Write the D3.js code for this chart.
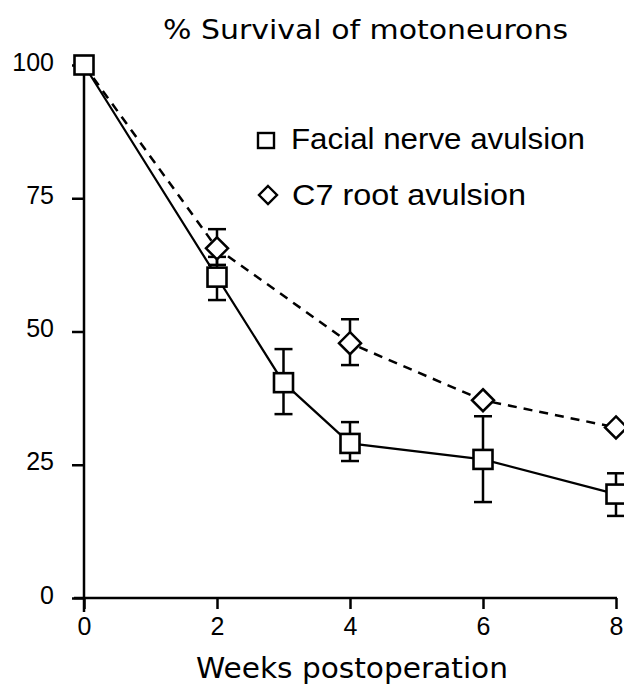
<!DOCTYPE html>
<html lang="en">
<head>
<meta charset="UTF-8">
<title>% Survival of motoneurons</title>
<script src="https://d3js.org/d3.v7.min.js"></script>
<style>
  body { margin: 0; background: #fff; }
  text { fill: #000; }
</style>
</head>
<body>
<div id="chart"></div>
<script>
// data
var weeks = [0, 2, 3, 4, 6, 8];
var facial = [100, 60.2, 40.4, 29, 26, 19.5];
var facialHi = [100, 64, 46.7, 33, 34.1, 23.4];
var facialLo = [100, 55.9, 34.5, 25.7, 18, 15.4];

var c7Weeks = [0, 2, 4, 6, 8];
var c7 = [100, 65.6, 47.8, 37.1, 32];
var c7Hi = [100, 69.2, 52.3, 37.1, 32];
var c7Lo = [100, 62.5, 43.7, 37.1, 32];

var xTicks = [0, 2, 4, 6, 8];
var yTicks = [0, 25, 50, 75, 100];

var W = 624, H = 698;
var svg = d3.select("#chart").append("svg")
  .attr("width", W).attr("height", H);

var x = d3.scaleLinear().domain([0, 8]).range([84, 616]);
var y = d3.scaleLinear().domain([0, 100]).range([598, 65]);

// axes
var xAxis = svg.append("g")
  .attr("transform", "translate(0," + y(0) + ")")
  .call(d3.axisBottom(x).tickValues(xTicks).tickSize(11).tickPadding(3).tickFormat(d3.format("d")));
var yAxis = svg.append("g")
  .attr("transform", "translate(" + x(0) + ",0)")
  .call(d3.axisLeft(y).tickValues(yTicks).tickSize(12).tickPadding(6).tickFormat(d3.format("d")));

[xAxis, yAxis].forEach(function (g) {
  g.select(".domain").remove();
  g.selectAll(".tick line").attr("stroke", "#000").attr("stroke-width", 2.5);
  g.selectAll(".tick text")
    .style("font-family", "'Liberation Sans', Arial, sans-serif")
    .style("font-size", "25px").attr("fill", "#000");
});
xAxis.selectAll(".tick text").attr("dy", "0.9em");
yAxis.selectAll(".tick text").attr("dx", "-12px").attr("dy", "0.2em");

// axis lines (y axis runs a little below the x axis)
svg.append("line").attr("x1", x(0)).attr("x2", x(0)).attr("y1", y(100)).attr("y2", y(0) + 14)
  .attr("stroke", "#000").attr("stroke-width", 2.5);
svg.append("line").attr("x1", x(0) - 10).attr("x2", x(8) + 1).attr("y1", y(0)).attr("y2", y(0))
  .attr("stroke", "#000").attr("stroke-width", 2.5);

var lineGen = d3.line().x(function (d) { return x(d[0]); }).y(function (d) { return y(d[1]); });

// C7 root avulsion: dashed line
var c7Pts = c7Weeks.map(function (w, i) { return [w, c7[i]]; });
svg.append("path").datum(c7Pts)
  .attr("d", lineGen).attr("fill", "none").attr("stroke", "#000")
  .attr("stroke-width", 2.5).attr("stroke-dasharray", "9,7");

// Facial nerve: solid line
var fPts = weeks.map(function (w, i) { return [w, facial[i]]; });
svg.append("path").datum(fPts)
  .attr("d", lineGen).attr("fill", "none").attr("stroke", "#000").attr("stroke-width", 2.2);

// error bars
function errBars(ws, lo, hi) {
  var g = svg.append("g").attr("stroke", "#000").attr("stroke-width", 2.5);
  ws.forEach(function (w, i) {
    if (hi[i] - lo[i] < 1) return;
    var cx = x(w);
    g.append("line").attr("x1", cx).attr("x2", cx).attr("y1", y(hi[i])).attr("y2", y(lo[i]));
    g.append("line").attr("x1", cx - 9).attr("x2", cx + 9).attr("y1", y(hi[i])).attr("y2", y(hi[i]));
    g.append("line").attr("x1", cx - 9).attr("x2", cx + 9).attr("y1", y(lo[i])).attr("y2", y(lo[i]));
  });
}
errBars(c7Weeks, c7Lo, c7Hi);
errBars(weeks, facialLo, facialHi);

// markers
var sq = 19, dm = 11;
function diamond(cx, cy, r) {
  return "M" + cx + "," + (cy - r) + "L" + (cx + r) + "," + cy + "L" + cx + "," + (cy + r) + "L" + (cx - r) + "," + cy + "Z";
}
svg.append("g").selectAll("path").data(c7Pts.slice(1)).join("path")
  .attr("d", function (d) { return diamond(x(d[0]), y(d[1]), dm); })
  .attr("fill", "#fff").attr("stroke", "#000").attr("stroke-width", 2.5);
svg.append("g").selectAll("rect").data(fPts).join("rect")
  .attr("x", function (d) { return x(d[0]) - sq / 2; })
  .attr("y", function (d) { return y(d[1]) - sq / 2; })
  .attr("width", sq).attr("height", sq)
  .attr("fill", "#fff").attr("stroke", "#000").attr("stroke-width", 2.6);

// legend
var legendFont = "'Liberation Sans', Arial, sans-serif";
svg.append("rect").attr("x", 258).attr("y", 133).attr("width", 16).attr("height", 15)
  .attr("fill", "#fff").attr("stroke", "#000").attr("stroke-width", 2.4);
svg.append("text").attr("x", 291).attr("y", 149)
  .attr("textLength", 294).attr("lengthAdjust", "spacingAndGlyphs")
  .style("font-family", legendFont).style("font-size", "29px").text("Facial nerve avulsion");
svg.append("path").attr("d", diamond(268, 195, 9))
  .attr("fill", "#fff").attr("stroke", "#000").attr("stroke-width", 2.4);
svg.append("text").attr("x", 292).attr("y", 205)
  .attr("textLength", 234).attr("lengthAdjust", "spacingAndGlyphs")
  .style("font-family", legendFont).style("font-size", "29px").text("C7 root avulsion");

// title and axis label
svg.append("text").attr("x", 163).attr("y", 39)
  .attr("textLength", 405).attr("lengthAdjust", "spacingAndGlyphs")
  .style("font-family", "'DejaVu Sans', sans-serif").style("font-size", "26px")
  .text("% Survival of motoneurons");
svg.append("text").attr("x", 196).attr("y", 678)
  .attr("textLength", 312).attr("lengthAdjust", "spacingAndGlyphs")
  .style("font-family", "'DejaVu Sans', sans-serif").style("font-size", "28px")
  .text("Weeks postoperation");
</script>
</body>
</html>
